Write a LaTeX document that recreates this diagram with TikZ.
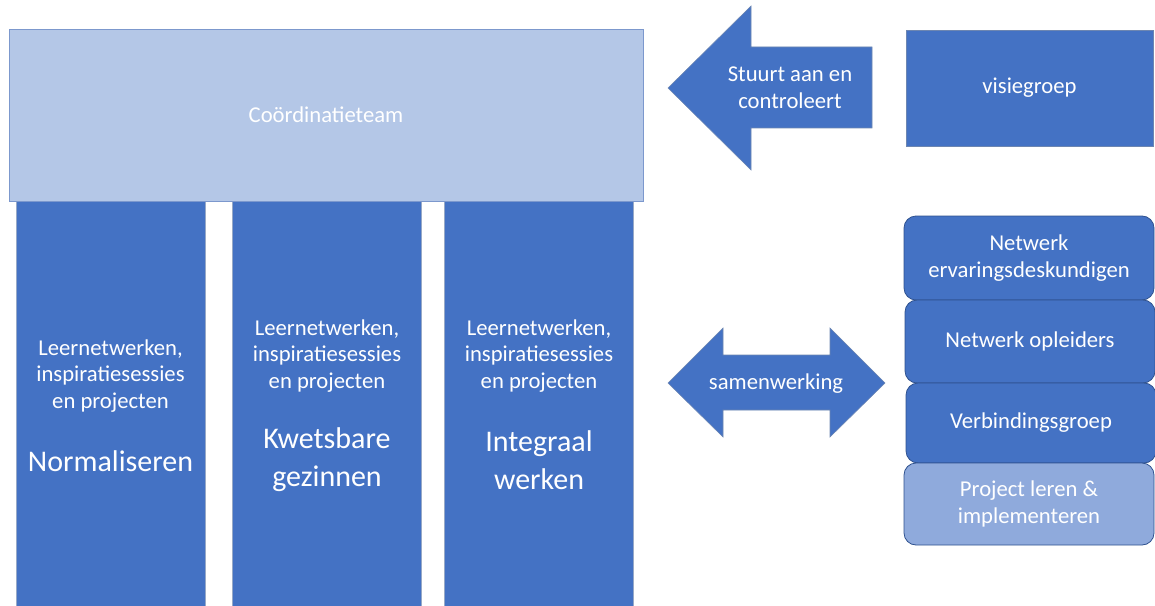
\documentclass[tikz,border=0pt]{standalone}
\usepackage{fontspec}
\setmainfont{Carlito}
\definecolor{blokblauw}{HTML}{4472C4}
\definecolor{randblauw}{HTML}{2F528F}
\definecolor{lichtblauw}{HTML}{B4C7E7}
\definecolor{middenblauw}{HTML}{8FAADC}
\tikzstyle{topBox} = [
 rectangle,
 draw=middenblauw!80!randblauw,
 line width=0.6pt,
 fill=lichtblauw,
 text=white,
 align = center
]
\tikzstyle{pillarBox} = [
 rectangle,
 draw=randblauw!50,
 line width=0.4pt,
 fill=blokblauw,
 minimum width=141.5pt,
 minimum height=303.75pt
]
\tikzstyle{groupBox} = [
 rectangle,
 draw=randblauw,
 line width=0.6pt,
 fill=blokblauw,
 rounded corners=9pt,
 minimum width=187.5pt,
 text=white,
 align = center
]
\tikzstyle{blockArrow} = [
 draw=randblauw!70,
 line width=0.4pt,
 fill=blokblauw
]
\tikzstyle{smallText} = [
 text=white,
 align = center,
 font=\fontsize{17}{20}\selectfont
]
\tikzstyle{bigText} = [
 text=white,
 align = center,
 font=\fontsize{22.5}{28.5}\selectfont
]

\begin{document}
\begin{tikzpicture}[x=0.75pt, y=-0.75pt]
  \useasboundingbox (0,0) rectangle (1155,606);

  % pijlers
  \node [pillarBox] (n) at (110.5,403.5) {};
  \node [pillarBox] (k) at (327,403.5) {};
  \node [pillarBox] (i) at (539,403.5) {};
  \node [smallText] (na) at (110.5,376) {Leernetwerken,\\inspiratiesessies\\en projecten};
  \node [bigText] (nb) at (110.5,461) {Normaliseren};
  \node [smallText] (ka) at (327,356) {Leernetwerken,\\inspiratiesessies\\en projecten};
  \node [bigText] (kb) at (327,460) {Kwetsbare\\gezinnen};
  \node [smallText] (ia) at (539,356) {Leernetwerken,\\inspiratiesessies\\en projecten};
  \node [bigText] (ib) at (539,460) {Integraal\\werken};

  % coordinatieteam
  \node [topBox, minimum width=475.5pt, minimum height=129pt,
    font=\fontsize{17}{20}\selectfont] (ct) at (326,115) {Coördinatieteam};

  % visiegroep en pijl
  \node [rectangle, draw=randblauw!70, line width=0.4pt, fill=blokblauw,
    minimum width=185.25pt, minimum height=87pt, text=white,
    font=\fontsize{17}{20}\selectfont] (vg) at (1029.5,88) {visiegroep};
  \draw [blockArrow] (668,88) -- (751,6) -- (751,47) -- (872,47) -- (872,128)
    -- (751,128) -- (751,170) -- cycle;
  \node [smallText] (sa) at (790,88) {Stuurt aan en\\controleert};

  % samenwerking
  \draw [blockArrow] (668,383) -- (723,328) -- (723,355) -- (830,355) -- (830,328)
    -- (885,383) -- (830,437) -- (830,410) -- (723,410) -- (723,437) -- cycle;
  \node [smallText] (sw) at (776,384) {samenwerking};

  % netwerken
  \node [groupBox, minimum height=63pt, font=\fontsize{17}{20}\selectfont]
    (ne) at (1029,258) {Netwerk\\ervaringsdeskundigen};
  \node [groupBox, minimum height=62.25pt, font=\fontsize{17}{20}\selectfont]
    (no) at (1030,341.5) {Netwerk opleiders};
  \node [groupBox, minimum height=60pt, font=\fontsize{17}{20}\selectfont]
    (vb) at (1031,423) {Verbindingsgroep};
  \node [groupBox, fill=middenblauw, minimum height=61.5pt,
    font=\fontsize{17}{20}\selectfont] (pl) at (1029,504) {Project leren \&\\implementeren};
\end{tikzpicture}
\end{document}
